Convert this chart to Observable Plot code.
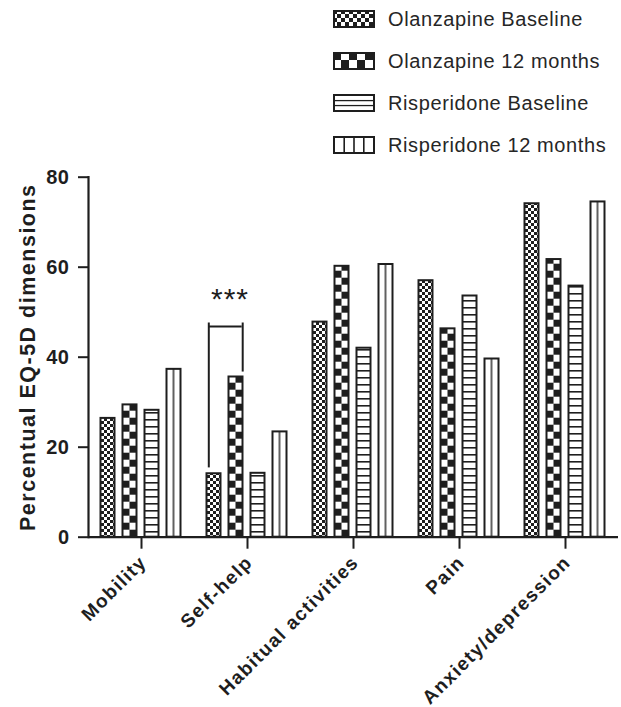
<!DOCTYPE html>
<html>
<head>
<meta charset="utf-8">
<script src="https://cdn.jsdelivr.net/npm/d3@7"></script>
<script src="https://cdn.jsdelivr.net/npm/@observablehq/plot@0.6"></script>
<style>
  html, body { margin: 0; padding: 0; background: #fff; }
  body { width: 621px; height: 707px; position: relative; overflow: hidden; font-family: "Liberation Sans", Arial, sans-serif; }
  #legend { position: relative; height: 160px; }
  .row { position: absolute; left: 333px; height: 24px; display: flex; align-items: center; }
  .row svg { display: block; }
  .row span { position: absolute; left: 55px; white-space: nowrap; font-size: 20px; color: #262626; letter-spacing: 0.6px; line-height: 24px; }
  #chart svg { overflow: visible; display: block; }
  g[aria-label="y-axis tick label"] text { letter-spacing: 0.5px; }
  g[aria-label="fx-axis tick label"] text { letter-spacing: 1.4px; }
  .ytitle text { letter-spacing: 1.5px; }
  .stars text { letter-spacing: 1px; }
</style>
</head>
<body>
<svg width="0" height="0" style="position:absolute">
  <defs>
    <pattern id="pOB" patternUnits="userSpaceOnUse" width="6" height="6">
      <rect width="6" height="6" fill="#fff"/>
      <rect x="0" y="0" width="3" height="3" fill="#1e1e1e"/>
      <rect x="3" y="3" width="3" height="3" fill="#1e1e1e"/>
    </pattern>
    <pattern id="pO12" patternUnits="userSpaceOnUse" width="14" height="14">
      <rect width="14" height="14" fill="#fff"/>
      <rect x="0" y="0" width="7" height="7" fill="#1e1e1e"/>
      <rect x="7" y="7" width="7" height="7" fill="#1e1e1e"/>
    </pattern>
    <pattern id="pRB" patternUnits="userSpaceOnUse" width="20" height="7">
      <rect width="20" height="7" fill="#fff"/>
      <rect x="0" y="0" width="20" height="1.6" fill="#1e1e1e"/>
    </pattern>
    <pattern id="pR12" patternUnits="objectBoundingBox" patternContentUnits="objectBoundingBox" width="1" height="1">
      <rect width="1" height="1" fill="#fff"/>
      <rect x="0.45" y="0" width="0.1" height="1" fill="#1e1e1e"/>
    </pattern>
    <pattern id="lOB" patternUnits="userSpaceOnUse" width="8" height="8">
      <rect width="8" height="8" fill="#fff"/>
      <rect x="0" y="0" width="4" height="4" fill="#1e1e1e"/>
      <rect x="4" y="4" width="4" height="4" fill="#1e1e1e"/>
    </pattern>
    <pattern id="lO12" patternUnits="userSpaceOnUse" width="16" height="16">
      <rect width="16" height="16" fill="#fff"/>
      <rect x="0" y="0" width="8" height="8" fill="#1e1e1e"/>
      <rect x="8" y="8" width="8" height="8" fill="#1e1e1e"/>
    </pattern>
    <pattern id="lRB" patternUnits="objectBoundingBox" patternContentUnits="objectBoundingBox" width="1" height="1">
      <rect width="1" height="1" fill="#fff"/>
      <rect x="0" y="0.31" width="1" height="0.08" fill="#1e1e1e"/>
      <rect x="0" y="0.62" width="1" height="0.08" fill="#1e1e1e"/>
    </pattern>
    <pattern id="lR12" patternUnits="objectBoundingBox" patternContentUnits="objectBoundingBox" width="1" height="1">
      <rect width="1" height="1" fill="#fff"/>
      <rect x="0.235" y="0" width="0.04" height="1" fill="#1e1e1e"/>
      <rect x="0.48" y="0" width="0.04" height="1" fill="#1e1e1e"/>
      <rect x="0.725" y="0" width="0.04" height="1" fill="#1e1e1e"/>
    </pattern>
  </defs>
</svg>
<div id="legend"></div>
<div id="chart"></div>
<script>
// ---- data ----
const categories = ["Mobility", "Self-help", "Habitual activities", "Pain", "Anxiety/depression"];
const seriesNames = ["Olanzapine Baseline", "Olanzapine 12 months", "Risperidone Baseline", "Risperidone 12 months"];
const olanzapineBaseline = [26.4, 14.1, 47.8, 57.0, 74.1];
const olanzapine12 = [29.4, 35.6, 60.2, 46.3, 61.7];
const risperidoneBaseline = [28.2, 14.2, 42.0, 53.6, 55.8];
const risperidone12 = [37.3, 23.4, 60.6, 39.6, 74.5];
const yTicks = [0, 20, 40, 60, 80];
const yLabel = "Percentual EQ-5D dimensions";
// significance annotation
const sigCategory = ["Self-help"];
const sigFrom = ["Olanzapine Baseline"];
const sigTo = ["Olanzapine 12 months"];
const sigTop = [46.8];
const sigLegTop = [47.6];
const sigFromEnd = [15.4];
const sigToEnd = [36.7];
const sigText = ["***"];
const sigTextY = [52.8];

// ---- styles (not data) ----
const barPatterns = ["url(#pOB)", "url(#pO12)", "url(#pRB)", "url(#pR12)"];
const legendPatterns = ["url(#lOB)", "url(#lO12)", "url(#lRB)", "url(#lR12)"];
const ink = "#1e1e1e";

const seriesValues = [olanzapineBaseline, olanzapine12, risperidoneBaseline, risperidone12];
const rows = categories.flatMap((c, i) =>
  seriesNames.map((s, j) => ({category: c, series: s, value: seriesValues[j][i]})));
const sig = sigCategory.map((c, i) => ({
  category: c, from: sigFrom[i], to: sigTo[i], top: sigTop[i], legTop: sigLegTop[i],
  fromEnd: sigFromEnd[i], toEnd: sigToEnd[i], text: sigText[i], textY: sigTextY[i]
}));

// ---- legend ----
const legend = document.getElementById("legend");
const rowCenters = [19, 61, 103, 145];
seriesNames.forEach((name, i) => {
  const row = document.createElement("div");
  row.className = "row";
  row.style.top = (rowCenters[i] - 12) + "px";
  row.innerHTML = `<svg width="42" height="18"><rect x="1" y="1" width="40" height="16" fill="${legendPatterns[i]}" stroke="${ink}" stroke-width="2"/></svg><span>${name}</span>`;
  legend.appendChild(row);
});

// ---- chart ----
const plot = Plot.plot({
  width: 621,
  height: 547,
  marginLeft: 86,
  marginRight: 1,
  marginTop: 16.7,
  marginBottom: 170.3,
  style: {fontFamily: "'Liberation Sans', Arial, sans-serif", color: ink, background: "transparent", overflow: "visible"},
  fx: {domain: categories, padding: 0},
  x: {domain: seriesNames, paddingInner: 0.3, paddingOuter: 0.5, axis: null},
  y: {domain: [0, 80], axis: null},
  color: {domain: seriesNames, range: barPatterns},
  marks: [
    Plot.barY(rows, {fx: "category", x: "series", y: "value", fill: "series",
      stroke: ink, strokeWidth: 2, insetLeft: 0.5, insetRight: 0.5}),
    Plot.ruleY([0], {stroke: ink, strokeWidth: 2.2}),
    Plot.frame({anchor: "left", facetAnchor: "left", stroke: ink, strokeWidth: 2.2}),
    Plot.axisY({ticks: yTicks, tickFormat: d => String(d), tickSize: 10, tickPadding: 9,
      fontSize: 20, fontWeight: "bold", strokeWidth: 2, label: null, stroke: ink}),
    // category tick marks
    Plot.axisFx({anchor: "bottom", tickSize: 12, tickFormat: () => "", strokeWidth: 2, label: null, stroke: ink}),
    // category labels
    Plot.axisFx({anchor: "bottom", tickRotate: -45, tickSize: 0, tickPadding: 22, dx: 2,
      fontSize: 19, fontWeight: "bold", label: null, fill: ink}),
    Plot.text([yLabel], {frameAnchor: "left", facetAnchor: "left", textAnchor: "middle", rotate: -90, dx: -60,
      fontSize: 21.5, fontWeight: "bold", fill: ink, className: "ytitle"}),
    // significance bracket
    Plot.ruleX(sig, {fx: "category", x: "from", y1: "fromEnd", y2: "legTop", dx: -5.2, stroke: ink, strokeWidth: 2}),
    Plot.ruleX(sig, {fx: "category", x: "to", y1: "toEnd", y2: "legTop", dx: 6.7, stroke: ink, strokeWidth: 2}),
    Plot.ruleY(sig, {fx: "category", x1: "from", x2: "to", y: "top", insetLeft: 2.3, insetRight: 1.3, stroke: ink, strokeWidth: 2}),
    Plot.text(sig, {fx: "category", x: "to", y: "textY", text: "text", dx: -6, fontSize: 30, fill: ink, className: "stars"})
  ]
});
document.getElementById("chart").appendChild(plot);

// align the large checkerboard with the bar edges (from the library's x scale)
const xScale = plot.scale("x");
const o12x = xScale.apply(seriesNames[1]);
document.getElementById("pO12").setAttribute("x", o12x + 0.5);
document.getElementById("pO12").setAttribute("y", plot.scale("y").apply(0));
</script>
</body>
</html>
